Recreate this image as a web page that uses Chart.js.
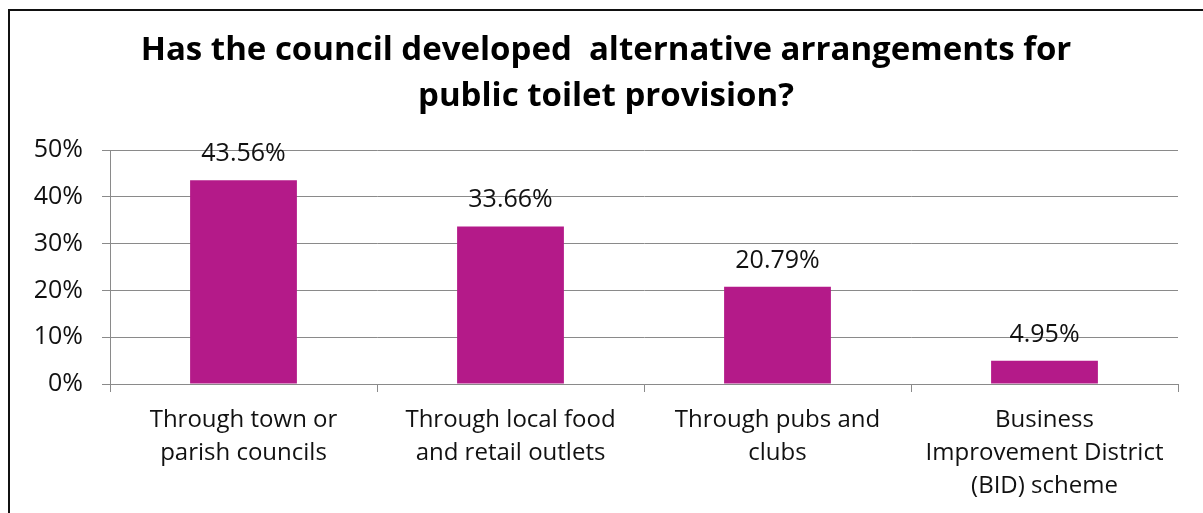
<!DOCTYPE html>
<html>
<head>
<meta charset="utf-8">
<script src="https://cdn.jsdelivr.net/npm/chart.js@4.4.0/dist/chart.umd.min.js"></script>
<style>
  html, body { margin: 0; padding: 0; background: #fff; overflow: hidden; }
  #frame {
    position: absolute; left: 8px; top: 9px; width: 1300px; height: 600px;
    border-left: 2px solid #111; border-top: 2px solid #111;
  }
  #wrap { position: absolute; left: 0; top: 0; width: 1203px; height: 513px; }
</style>
</head>
<body>
<div id="frame"></div>
<div id="wrap"><canvas id="chart" width="1203" height="513"></canvas></div>
<script>
const titleLines = ["Has the council developed  alternative arrangements for", "public toilet provision?"];
const categories = [
  ["Through town or", "parish councils"],
  ["Through local food", "and retail outlets"],
  ["Through pubs and", "clubs"],
  ["Business", "Improvement District", "(BID) scheme"]
];
const values = [43.56, 33.66, 20.79, 4.95];
const yTicks = [0, 10, 20, 30, 40, 50];

const fontFamily = "'Open Sans', Lato, sans-serif";
const barColor = "#B41A89";
const gridColor = "#8a8a8a";

// value labels above each bar
const valueLabels = {
  id: "valueLabels",
  afterDatasetsDraw(chart) {
    const ctx = chart.ctx;
    const meta = chart.getDatasetMeta(0);
    ctx.save();
    ctx.font = "25px " + fontFamily;
    ctx.fillStyle = "#111";
    ctx.textAlign = "center";
    ctx.textBaseline = "alphabetic";
    meta.data.forEach((bar, i) => {
      ctx.fillText(values[i].toFixed(2) + "%", bar.x, bar.y - 19);
    });
    ctx.restore();
  }
};

new Chart(document.getElementById("chart"), {
  type: "bar",
  data: {
    labels: categories,
    datasets: [{
      data: values,
      backgroundColor: barColor,
      borderWidth: 0,
      barPercentage: 0.4,
      categoryPercentage: 1.0
    }]
  },
  options: {
    responsive: false,
    animation: false,
    layout: { padding: { left: 34, right: 25, top: 0, bottom: 0 } },
    plugins: {
      legend: { display: false },
      tooltip: { enabled: false },
      title: {
        display: true,
        text: titleLines,
        color: "#000",
        font: { family: fontFamily, size: 33, weight: "bold", lineHeight: 1.4 },
        padding: { top: 27, bottom: 30.6 }
      }
    },
    scales: {
      x: {
        grid: {
          offset: true,
          drawOnChartArea: false,
          color: gridColor,
          tickLength: 8
        },
        border: { color: gridColor, width: 1 },
        ticks: {
          color: "#111",
          font: { family: fontFamily, size: 24, lineHeight: 1.375 },
          padding: 12,
          maxRotation: 0,
          autoSkip: false
        },
        afterFit(scale) { scale.height = 129; }
      },
      y: {
        min: 0,
        max: 50,
        afterBuildTicks(scale) { scale.ticks = yTicks.map(v => ({ value: v })); },
        grid: { color: gridColor, tickLength: 8 },
        border: { color: gridColor, width: 1 },
        ticks: {
          color: "#111",
          font: { family: fontFamily, size: 25 },
          padding: 19,
          callback: v => v + "%"
        },
        afterFit(scale) { scale.width = 76; }
      }
    }
  },
  plugins: [valueLabels]
});
</script>
</body>
</html>
